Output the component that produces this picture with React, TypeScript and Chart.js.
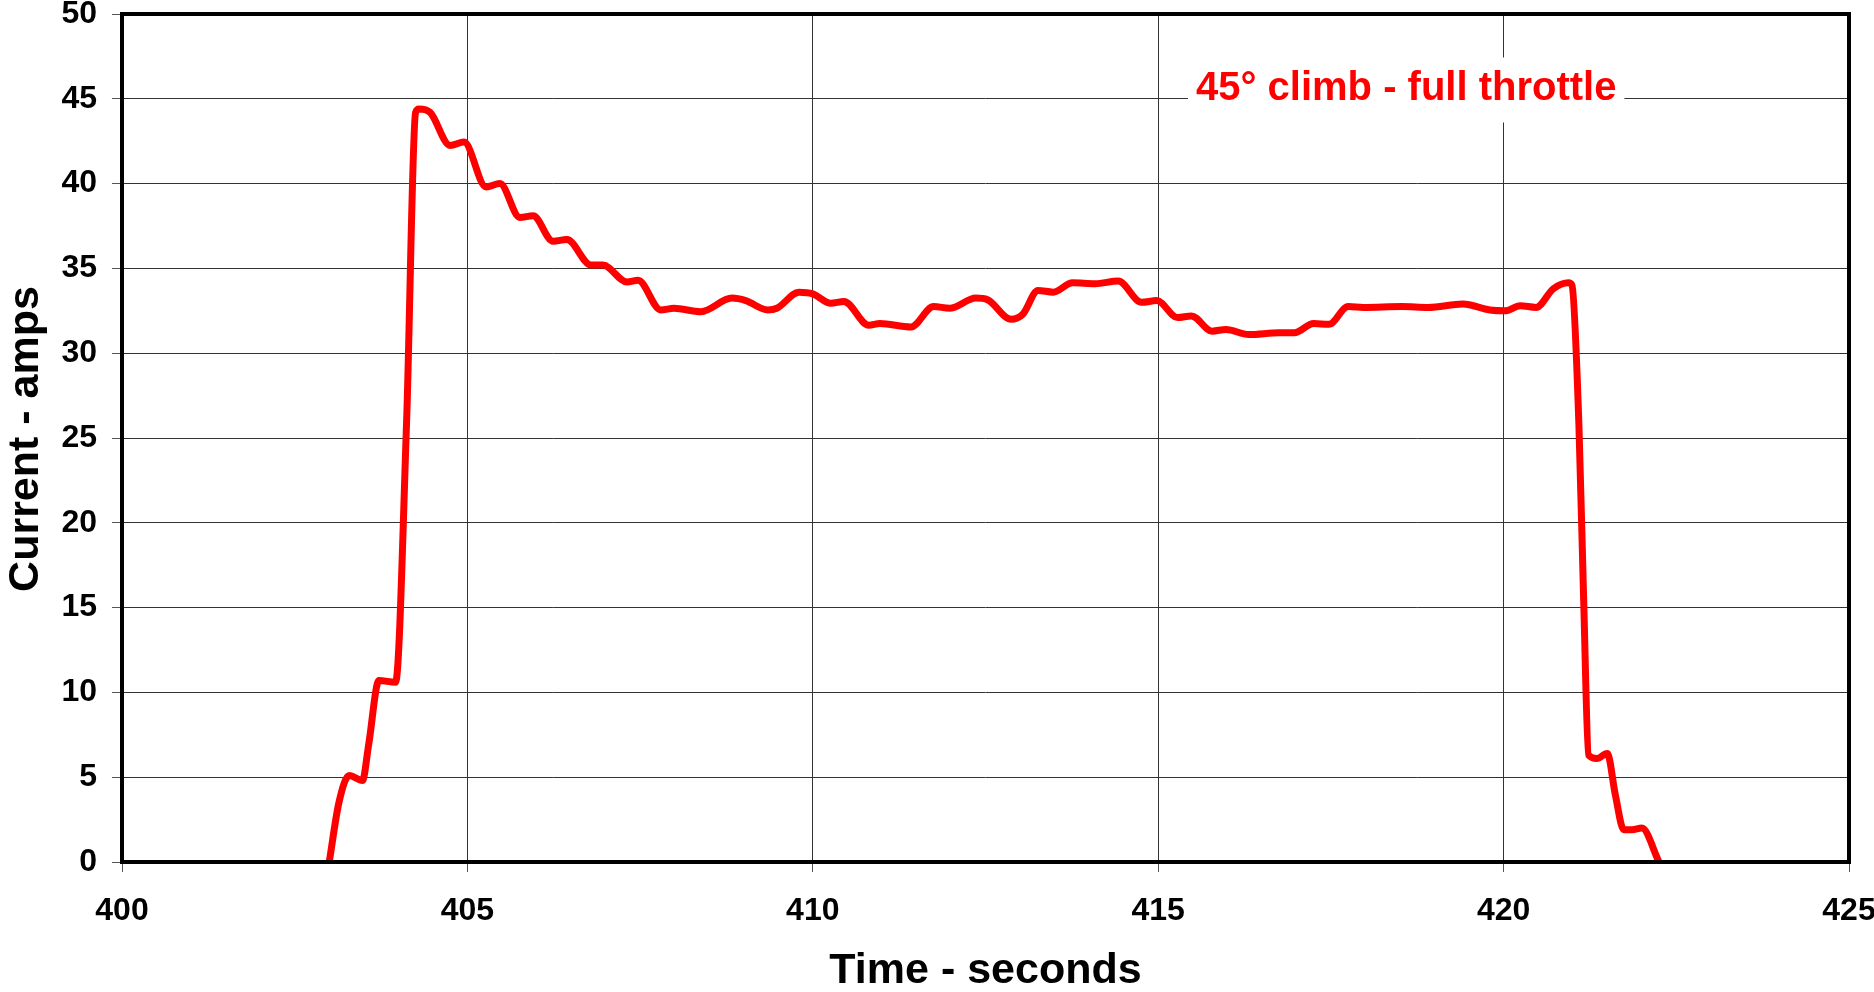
import React, { useEffect, useRef } from "react";
import { Chart, registerables } from "chart.js";

Chart.register(...registerables);

// ---- data ----
const timeSeconds = [
  403.0, 403.14, 403.29, 403.48, 403.57, 403.72, 403.96, 404.12, 404.25, 404.3,
  404.46, 404.75, 404.95, 405.27, 405.47, 405.76, 405.95, 406.24, 406.44, 406.79,
  406.96, 407.31, 407.47, 407.8, 407.99, 408.38, 408.83, 409.03, 409.35, 409.48,
  409.8, 410.0, 410.26, 410.45, 410.81, 410.97, 411.42, 411.75, 411.98, 412.36,
  412.53, 412.87, 413.04, 413.26, 413.48, 413.76, 414.09, 414.42, 414.76, 414.98,
  415.28, 415.48, 415.78, 415.98, 416.31, 416.75, 416.97, 417.25, 417.47, 417.75,
  417.97, 418.53, 418.91, 419.41, 419.8, 420.02, 420.24, 420.47, 420.72, 420.94,
  420.99, 421.09, 421.16, 421.23, 421.35, 421.5, 421.62, 421.74, 421.86, 422.0,
  422.25,
];

const currentAmps = [
  0, 3.5, 5.1, 4.8, 6.9, 10.7, 10.6, 26, 44.2, 44.4,
  44.2, 42.25, 42.45, 39.8, 40.0, 38.0, 38.1, 36.6, 36.7, 35.2,
  35.2, 34.2, 34.3, 32.55, 32.65, 32.45, 33.25, 33.1, 32.55, 32.65,
  33.6, 33.5, 32.95, 33.05, 31.65, 31.75, 31.55, 32.75, 32.65, 33.25,
  33.15, 32.0, 32.3, 33.7, 33.6, 34.15, 34.1, 34.25, 33.0, 33.1,
  32.1, 32.2, 31.3, 31.4, 31.1, 31.2, 31.2, 31.75, 31.7, 32.75,
  32.7, 32.75, 32.7, 32.9, 32.55, 32.5, 32.8, 32.7, 33.8, 34.15,
  34.0, 25.8, 15.3, 6.3, 6.1, 6.4, 3.9, 1.9, 1.9, 2.0,
  0,
];

const xTickValues = [400, 405, 410, 415, 420, 425];
const yTickValues = [0, 5, 10, 15, 20, 25, 30, 35, 40, 45, 50];

const xAxisTitle = "Time - seconds";
const yAxisTitle = "Current - amps";
const annotationText = "45° climb - full throttle";
const annotationAt = { x: 418.59, y: 45.55 };

const FONT = "'Liberation Sans', Arial, Helvetica, sans-serif";

export default function App() {
  const canvasRef = useRef<HTMLCanvasElement | null>(null);

  useEffect(() => {
    document.body.style.margin = "0";
    const canvas = canvasRef.current;
    if (!canvas) return;

    const decor = {
      id: "decor",
      beforeDatasetsDraw(chart: any) {
        const { ctx, scales } = chart;
        const cx = scales.x.getPixelForValue(annotationAt.x);
        const cy = scales.y.getPixelForValue(annotationAt.y);
        ctx.save();
        ctx.font = `bold 40px ${FONT}`;
        const w = ctx.measureText(annotationText).width;
        ctx.fillStyle = "#ffffff";
        ctx.fillRect(cx - w / 2 - 8, cy - 32, w + 16, 65);
        ctx.fillStyle = "#ff0000";
        ctx.textAlign = "center";
        ctx.textBaseline = "alphabetic";
        ctx.fillText(annotationText, cx, cy + 11);
        ctx.restore();
      },
      afterDraw(chart: any) {
        const { ctx, chartArea } = chart;
        ctx.save();
        // frame
        ctx.strokeStyle = "#000000";
        ctx.lineWidth = 4;
        ctx.strokeRect(
          chartArea.left,
          chartArea.top,
          chartArea.right - chartArea.left,
          chartArea.bottom - chartArea.top
        );
        // axis titles
        ctx.fillStyle = "#000000";
        ctx.font = `bold 43px ${FONT}`;
        ctx.textAlign = "center";
        ctx.textBaseline = "alphabetic";
        const midX = (chartArea.left + chartArea.right) / 2;
        ctx.fillText(xAxisTitle, midX, 983);
        const midY = (chartArea.top + chartArea.bottom) / 2 + 1;
        ctx.translate(38, midY);
        ctx.rotate(-Math.PI / 2);
        ctx.fillText(yAxisTitle, 0, 0);
        ctx.restore();
      },
    };

    const chart = new Chart(canvas, {
      type: "line",
      data: {
        datasets: [
          {
            label: "Current",
            data: timeSeconds.map((t, i) => ({ x: t, y: currentAmps[i] })),
            borderColor: "#ff0000",
            borderWidth: 7,
            pointRadius: 0,
            pointHoverRadius: 0,
            cubicInterpolationMode: "monotone",
            borderCapStyle: "round",
            borderJoinStyle: "round",
            fill: false,
          },
        ],
      },
      options: {
        responsive: false,
        animation: false,
        devicePixelRatio: 1,
        layout: { padding: { top: 14, right: 25, left: 0, bottom: 0 } },
        plugins: {
          legend: { display: false },
          tooltip: { enabled: false },
          title: { display: false },
        },
        scales: {
          x: {
            type: "linear",
            min: xTickValues[0],
            max: xTickValues[xTickValues.length - 1],
            afterBuildTicks: (scale: any) => {
              scale.ticks = xTickValues.map((v) => ({ value: v }));
            },
            afterFit: (scale: any) => {
              scale.height = 130;
              scale.paddingLeft = 0;
              scale.paddingRight = 0;
              scale.paddingTop = 0;
              scale.paddingBottom = 0;
            },
            grid: {
              color: "#333333",
              lineWidth: 1,
              drawTicks: true,
              tickLength: 10,
              tickColor: "#555555",
            },
            border: { display: false },
            ticks: {
              color: "#000000",
              padding: 20,
              maxRotation: 0,
              autoSkip: false,
              font: { family: FONT, size: 32, weight: "bold" },
            },
          },
          y: {
            type: "linear",
            min: yTickValues[0],
            max: yTickValues[yTickValues.length - 1],
            afterBuildTicks: (scale: any) => {
              scale.ticks = yTickValues.map((v) => ({ value: v }));
            },
            afterFit: (scale: any) => {
              scale.width = 122;
              scale.paddingLeft = 0;
              scale.paddingRight = 0;
              scale.paddingTop = 0;
              scale.paddingBottom = 0;
            },
            grid: {
              color: "#333333",
              lineWidth: 1,
              drawTicks: true,
              tickLength: 10,
              tickColor: "#555555",
            },
            border: { display: false },
            ticks: {
              color: "#000000",
              padding: 15,
              autoSkip: false,
              font: { family: FONT, size: 32, weight: "bold" },
            },
          },
        },
      },
      plugins: [decor],
    });

    return () => chart.destroy();
  }, []);

  return (
    <div
      style={{
        position: "fixed",
        left: 0,
        top: 0,
        width: 1874,
        height: 992,
        background: "#ffffff",
      }}
    >
      <canvas
        ref={canvasRef}
        width={1874}
        height={992}
        style={{ display: "block", width: 1874, height: 992 }}
      />
    </div>
  );
}
